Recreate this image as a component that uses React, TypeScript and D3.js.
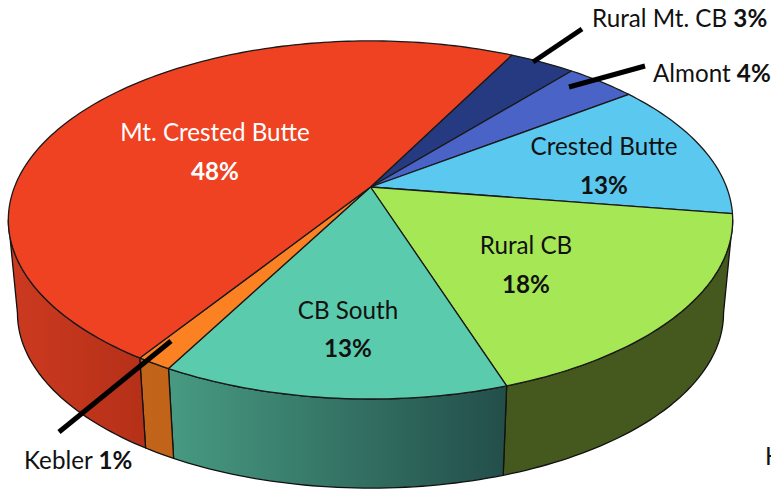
import React from "react";
import * as d3 from "d3";

const names = ["Rural Mt. CB", "Almont", "Crested Butte", "Rural CB", "CB South", "Kebler", "Mt. Crested Butte"];
// percentages as printed on the chart
const printed = [3, 4, 13, 18, 13, 1, 48];
// unrounded sizes
const shares = [3.5, 3.75, 12.5, 17.5, 13, 1.35, 48.4];
const topColors = ["#253a80", "#4a63c6", "#5ac8ef", "#a6e755", "#5bcbae", "#fb8122", "#ef4223"];
const wallLeft = ["#1a2a5c", "#34468c", "#3e8ca8", "#45591f", "#479a82", "#c4661a", "#cc3a20"];
const wallRight = ["#1a2a5c", "#34468c", "#3e8ca8", "#45591f", "#234f4a", "#b85c14", "#b53018"];

const width = 771, height = 489;
const cx = 370.5, cy = 187;
const tilt = 0.184; // perspective strength
const startDeg = 27.5;

// flat circle angle -> picture position, with perspective
const project = (a: number, rx: number, ry: number, y0: number): [number, number] => {
  const u = Math.sin(a), v = -Math.cos(a);
  const w = 1 - tilt * v;
  return [cx + (rx * u) / w, y0 + (ry * v) / w];
};
const top = (a: number) => project(a, 356, 173, cy);
const bottom = (a: number) => project(a, 347, 169, 281);

const sampleAngles = (a0: number, a1: number) => {
  const n = Math.max(2, Math.ceil(Math.abs(a1 - a0) / 0.02));
  return d3.range(n + 1).map((i) => a0 + ((a1 - a0) * i) / n);
};

const line = d3.line();

const start = (startDeg * Math.PI) / 180;
const pie = d3.pie<number>().sort(null).startAngle(start).endAngle(start + 2 * Math.PI);
const arcs = pie(shares);

// part of the rim that faces us, between the two silhouette points
const frontFrom = Math.PI - Math.acos(tilt);
const frontTo = Math.PI + Math.acos(tilt);

export default function App() {
  return (
    <svg width={width} height={height} style={{ position: "absolute", left: 0, top: 0, fontFamily: "Lato" }}>
      <defs>
        {arcs.map((d, i) => (
          <linearGradient
            key={i}
            id={`wall${i}`}
            gradientUnits="userSpaceOnUse"
            x1={i === 6 ? 10 : i === 4 ? 170 : 0}
            x2={i === 6 ? 145 : i === 4 ? 503 : width}
            y1={0}
            y2={0}
          >
            <stop offset="0" stopColor={wallLeft[i]} />
            <stop offset="1" stopColor={wallRight[i]} />
          </linearGradient>
        ))}
      </defs>

      {/* side walls */}
      {arcs.map((d, i) => {
        const a0 = Math.max(d.startAngle, frontFrom);
        const a1 = Math.min(d.endAngle, frontTo);
        if (a1 <= a0) return null;
        const as = sampleAngles(a0, a1);
        const pts = [...as.map(top), ...as.slice().reverse().map(bottom)];
        return (
          <path
            key={i}
            d={line(pts as [number, number][]) + "Z"}
            fill={`url(#wall${i})`}
            stroke="#111"
            strokeWidth={1.3}
            strokeLinejoin="round"
          />
        );
      })}

      {/* top face */}
      {arcs.map((d, i) => {
        const pts = [[cx, cy], ...sampleAngles(d.startAngle, d.endAngle).map(top)];
        return (
          <path
            key={i}
            d={line(pts as [number, number][]) + "Z"}
            fill={topColors[i]}
            stroke="#1a1a1a"
            strokeWidth={1.3}
            strokeLinejoin="round"
          />
        );
      })}

      {/* value labels on the slices */}
      <g fontSize={24.2} textAnchor="middle">
        <text x={215} y={141} fill="#fff">{names[6]}</text>
        <text x={215} y={180} fill="#fff" fontWeight="bold">{printed[6]}%</text>
        <text x={604} y={155} fill="#111">{names[2]}</text>
        <text x={604} y={194} fill="#111" fontWeight="bold">{printed[2]}%</text>
        <text x={526} y={254} fill="#111">{names[3]}</text>
        <text x={526} y={293} fill="#111" fontWeight="bold">{printed[3]}%</text>
        <text x={348} y={319} fill="#111">{names[4]}</text>
        <text x={348} y={357} fill="#111" fontWeight="bold">{printed[4]}%</text>
      </g>

      {/* leader lines */}
      <g stroke="#000" strokeWidth={5}>
        <line x1={533} y1={62} x2={582} y2={29} />
        <line x1={569} y1={87} x2={645} y2={66} />
        <line x1={171} y1={341} x2={59} y2={432} />
      </g>

      <g fontSize={24.2} fill="#111">
        <text x={592} y={27}>{names[0]} <tspan fontWeight="bold">{printed[0]}%</tspan></text>
        <text x={653} y={82}>{names[1]} <tspan fontWeight="bold">{printed[1]}%</tspan></text>
        <text x={24} y={469}>{names[5]} <tspan fontWeight="bold">{printed[5]}%</tspan></text>
        <text x={765} y={465}>K</text>
      </g>
    </svg>
  );
}
